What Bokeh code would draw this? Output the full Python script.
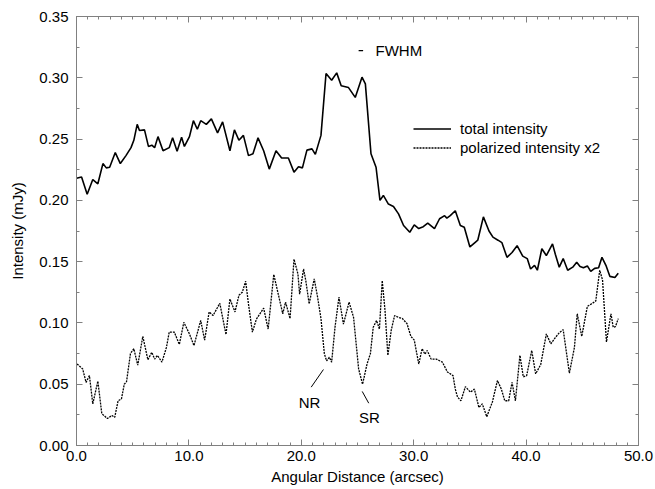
from bokeh.plotting import figure
from bokeh.models import (Range1d, LinearAxis, FixedTicker, PrintfTickFormatter,
                          CustomJSTickFormatter, Legend, LegendItem, Label, ColumnDataSource)
from bokeh.embed import file_html
from bokeh.resources import INLINE

# ---------------- data ----------------
total_x = [0.0, 0.45, 0.95, 1.45, 1.9, 2.35, 2.65, 2.95, 3.45, 3.9, 4.4, 4.85, 5.1, 5.4, 5.6,
           6.05, 6.4, 6.7, 6.95, 7.25, 7.7, 8.25, 8.55, 8.95, 9.35, 9.6, 10.05, 10.4, 10.75,
           11.05, 11.55, 12.0, 12.55, 13.0, 13.65, 14.05, 14.45, 14.85, 15.3, 15.7, 16.15,
           16.65, 17.15, 17.75, 18.25, 18.85, 19.35, 19.75, 20.1, 20.5, 20.95, 21.25, 21.75,
           22.2, 22.7, 23.15, 23.55, 24.2, 24.8, 25.4, 25.7, 26.2, 26.65, 27.0, 27.3, 27.75,
           28.2, 28.65, 29.1, 29.65, 30.05, 30.45, 30.85, 31.25, 31.85, 32.3, 32.75, 32.95,
           33.25, 33.7, 34.15, 34.5, 35.0, 35.5, 35.7, 36.2, 36.7, 37.05, 37.5, 37.85, 38.3,
           38.75, 39.2, 39.7, 40.1, 40.4, 40.75, 41.0, 41.4, 41.8, 42.35, 42.6, 42.95, 43.3,
           43.7, 44.15, 44.5, 44.8, 45.1, 45.45, 45.75, 46.1, 46.45, 46.75, 47.1, 47.45,
           47.9, 48.2]
total_y = [0.218, 0.219, 0.205, 0.217, 0.2135, 0.230, 0.2265, 0.227, 0.239, 0.230, 0.2365,
           0.243, 0.249, 0.262, 0.257, 0.2575, 0.244, 0.245, 0.243, 0.252, 0.2405, 0.243,
           0.251, 0.240, 0.2515, 0.244, 0.252, 0.265, 0.258, 0.265, 0.262, 0.2665, 0.255,
           0.264, 0.2405, 0.2575, 0.249, 0.253, 0.2365, 0.238, 0.251, 0.2405, 0.2255, 0.2405,
           0.2345, 0.2345, 0.223, 0.2275, 0.2265, 0.241, 0.242, 0.2375, 0.253, 0.3035, 0.298,
           0.304, 0.2935, 0.292, 0.284, 0.3005, 0.295, 0.238, 0.227, 0.200, 0.204, 0.197,
           0.195, 0.189, 0.1795, 0.174, 0.180, 0.177, 0.1785, 0.1815, 0.177, 0.185, 0.1875,
           0.1855, 0.1875, 0.1915, 0.1795, 0.178, 0.162, 0.166, 0.1675, 0.1865, 0.175, 0.170,
           0.1675, 0.1655, 0.1535, 0.1575, 0.163, 0.1545, 0.1525, 0.144, 0.147, 0.143, 0.1605,
           0.155, 0.1645, 0.156, 0.1455, 0.1525, 0.143, 0.1455, 0.1495, 0.146, 0.145, 0.1465,
           0.142, 0.1445, 0.145, 0.1535, 0.147, 0.138, 0.137, 0.1405]

pol_x = [0.05, 0.55, 0.85, 1.15, 1.45, 1.9, 2.25, 2.75, 3.15, 3.4, 3.7, 4.0, 4.25, 4.45, 4.8,
         5.1, 5.45, 5.9, 6.35, 6.7, 6.95, 7.2, 7.6, 8.0, 8.25, 8.7, 9.15, 9.55, 10.05, 10.45,
         11.05, 11.4, 11.8, 12.15, 12.75, 13.3, 13.65, 14.1, 14.45, 14.75, 15.05, 15.3, 15.65,
         16.0, 16.65, 17.05, 17.55, 17.95, 18.35, 18.6, 19.0, 19.35, 19.7, 19.85, 20.2, 20.4,
         20.7, 21.15, 21.45, 21.75, 22.05, 22.25, 22.5, 22.7, 23.0, 23.35, 23.75, 24.25, 24.65,
         25.1, 25.45, 25.85, 26.15, 26.4, 26.7, 26.95, 27.2, 27.45, 27.7, 28.0, 28.3, 28.65,
         29.0, 29.4, 29.75, 30.05, 30.45, 30.75, 31.0, 31.2, 31.55, 32.0, 32.55, 33.0, 33.5,
         33.7, 33.9, 34.2, 34.6, 35.05, 35.4, 35.8, 36.1, 36.5, 37.0, 37.45, 37.8, 38.1, 38.45,
         38.75, 39.05, 39.45, 39.75, 40.05, 40.5, 40.85, 41.3, 41.8, 42.2, 42.6, 42.95, 43.3,
         43.85, 44.3, 44.55, 44.95, 45.45, 45.9, 46.2, 46.55, 46.8, 47.15, 47.55, 47.75, 47.95,
         48.2]
pol_y = [0.0665, 0.0625, 0.0515, 0.057, 0.034, 0.0525, 0.026, 0.022, 0.0245, 0.023, 0.0365,
         0.038, 0.050, 0.052, 0.075, 0.079, 0.0655, 0.089, 0.070, 0.076, 0.0705, 0.0735, 0.068,
         0.080, 0.0925, 0.0925, 0.0825, 0.1005, 0.091, 0.0815, 0.102, 0.086, 0.109, 0.106,
         0.116, 0.0905, 0.1195, 0.109, 0.1225, 0.125, 0.134, 0.1155, 0.0925, 0.103, 0.112,
         0.095, 0.1395, 0.1235, 0.1075, 0.117, 0.1035, 0.152, 0.140, 0.1235, 0.144, 0.1345,
         0.1155, 0.136, 0.121, 0.1035, 0.075, 0.069, 0.072, 0.068, 0.0965, 0.121, 0.099, 0.117,
         0.1045, 0.0625, 0.050, 0.0665, 0.075, 0.0965, 0.102, 0.095, 0.1345, 0.110, 0.0735,
         0.094, 0.106, 0.1045, 0.1035, 0.0995, 0.089, 0.086, 0.0665, 0.079, 0.0745, 0.0775,
         0.0705, 0.0705, 0.068, 0.060, 0.057, 0.046, 0.0395, 0.0365, 0.048, 0.0435, 0.046,
         0.031, 0.034, 0.0235, 0.0355, 0.053, 0.046, 0.0365, 0.0365, 0.0515, 0.0365, 0.0735,
         0.056, 0.057, 0.0775, 0.0585, 0.066, 0.091, 0.083, 0.088, 0.092, 0.0945, 0.059, 0.080,
         0.1075, 0.089, 0.1135, 0.116, 0.118, 0.143, 0.135, 0.0845, 0.1075, 0.0965, 0.097,
         0.1035]

x_ticks = [0, 10, 20, 30, 40, 50]
y_ticks = [0.0, 0.05, 0.10, 0.15, 0.20, 0.25, 0.30, 0.35]
series_names = ["total intensity", "polarized intensity x2"]

FONT = "Liberation Sans"
GRAY = "#808080"

p = figure(width=655, height=489, x_range=Range1d(0, 50), y_range=Range1d(0, 0.35),
           output_backend="svg", toolbar_location=None,
           min_border_left=76, min_border_right=17, min_border_top=16, min_border_bottom=44,
           x_axis_label="Angular Distance (arcsec)", y_axis_label="Intensity (mJy)")
p.grid.visible = False
p.outline_line_color = GRAY
p.background_fill_color = "white"
p.border_fill_color = "white"

x_minor = list(range(0, 51))
y_minor = [round(i * 0.025, 4) for i in range(15)]

def style(ax, ticker, fmt, labels=True):
    ax.ticker = FixedTicker(ticks=ticker[0], minor_ticks=ticker[1])
    ax.axis_line_color = GRAY
    ax.major_tick_line_color = GRAY
    ax.minor_tick_line_color = GRAY
    ax.major_tick_in = 6
    ax.major_tick_out = 0
    ax.minor_tick_in = 3
    ax.minor_tick_out = 0
    ax.major_label_text_font = FONT
    ax.major_label_text_color = "black"
    ax.major_label_text_font_size = "15px"
    if labels:
        ax.formatter = PrintfTickFormatter(format=fmt)
    else:
        ax.formatter = CustomJSTickFormatter(code="return '';")
        ax.major_label_standoff = 0

style(p.xaxis[0], (x_ticks, x_minor), "%.1f")
style(p.yaxis[0], (y_ticks, y_minor), "%.2f")
p.xaxis[0].major_label_standoff = 5
p.yaxis[0].major_label_standoff = 8
for ax in (p.xaxis[0], p.yaxis[0]):
    ax.axis_label_text_font = FONT
    ax.axis_label_text_font_size = "15px"
    ax.axis_label_text_font_style = "normal"
    ax.axis_label_text_color = "black"
p.xaxis[0].axis_label_standoff = 4
p.yaxis[0].axis_label_standoff = 10

top = LinearAxis()
style(top, (x_ticks, x_minor), "%.1f", labels=False)
p.add_layout(top, "above")
right = LinearAxis()
style(right, (y_ticks, y_minor), "%.2f", labels=False)
p.add_layout(right, "right")

src_t = ColumnDataSource(dict(x=total_x, y=total_y))
src_p = ColumnDataSource(dict(x=pol_x, y=pol_y))
r_tot = p.line("x", "y", source=src_t, line_color="black", line_width=1.6)
r_pol = p.line("x", "y", source=src_p, line_color="black", line_width=1.3, line_dash="2 1")

legend = Legend(items=[LegendItem(label=series_names[0], renderers=[r_tot]),
                       LegendItem(label=series_names[1], renderers=[r_pol])],
                location=(337, 289), orientation="vertical")
legend.background_fill_alpha = 0
legend.border_line_alpha = 0
legend.padding = 0
legend.margin = 0
legend.spacing = 2
legend.glyph_width = 38
legend.glyph_height = 17
legend.label_height = 17
legend.label_standoff = 9
legend.label_text_font = FONT
legend.label_text_font_size = "15px"
legend.label_text_color = "black"
p.add_layout(legend, "center")

# annotations
p.segment(x0=[25.1], y0=[0.3222], x1=[25.5], y1=[0.3222], line_color="black", line_width=1.3)
p.add_layout(Label(x=26.6, y=0.3222, text="FWHM", text_font=FONT, text_font_size="15px",
                   text_baseline="middle", text_align="left", text_color="black"))
p.segment(x0=[21.97, 25.42], y0=[0.062, 0.0441], x1=[20.88, 26.0], y1=[0.0476, 0.0345],
          line_color="black", line_width=1)
p.add_layout(Label(x=20.73, y=0.0351, text="NR", text_font=FONT, text_font_size="15px",
                   text_baseline="middle", text_align="center", text_color="black"))
p.add_layout(Label(x=26.07, y=0.0228, text="SR", text_font=FONT, text_font_size="15px",
                   text_baseline="middle", text_align="center", text_color="black"))

open("out.html", "w").write(file_html(p, INLINE))
